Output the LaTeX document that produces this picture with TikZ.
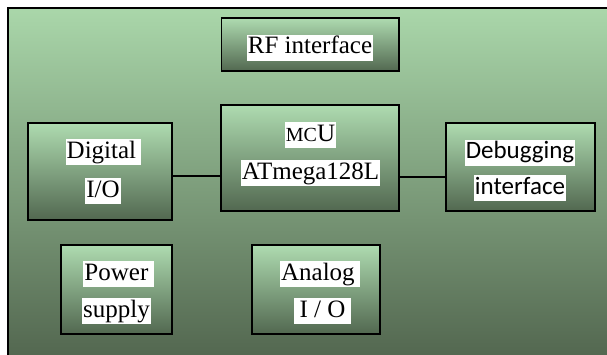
\documentclass[tikz,border=0pt]{standalone}
\usepackage{fontspec}
\setmainfont{Liberation Serif}
\newfontfamily\calfont{Carlito}
\begin{document}
\begin{tikzpicture}[x=1pt,y=-1pt,
  outerbg/.style={draw=black,line width=1.3pt,top color=bgtop,bottom color=bgbot},
  blockbox/.style={draw=black,line width=1.2pt,top color=boxtop,bottom color=boxbot,inner sep=0pt},
  lbl/.style={fill=white,inner xsep=1pt,inner ysep=0pt,text height=19pt,text depth=7pt,font=\fontsize{25}{27}\selectfont},
  clbl/.style={fill=white,inner xsep=1pt,inner ysep=0pt,text height=19pt,text depth=7pt,font=\calfont\fontsize{25}{27}\selectfont},
  conn/.style={draw=black,line width=1.1pt}]
\definecolor{bgtop}{HTML}{AAD7AA}
\definecolor{bgbot}{HTML}{52664F}
\definecolor{boxtop}{HTML}{AEDBB0}
\definecolor{boxbot}{HTML}{526850}
\useasboundingbox (0,0) rectangle (607,354);
\path[outerbg] (8,8) rectangle (612,360);
% boxes
\node[blockbox,minimum width=177.5pt,minimum height=53pt] (rf) at (310.25,44.5) {};
\node[blockbox,minimum width=144pt,minimum height=97pt] (dig) at (100,171.5) {};
\node[blockbox,minimum width=178pt,minimum height=106pt] (mcu) at (310,158) {};
\node[blockbox,minimum width=149pt,minimum height=88pt] (dbg) at (520.5,167) {};
\node[blockbox,minimum width=111pt,minimum height=89pt] (pwr) at (116.5,289.5) {};
\node[blockbox,minimum width=128pt,minimum height=89pt] (ana) at (316,289.5) {};
% connectors
\draw[conn] (dig.east |- 0,176) -- (mcu.west |- 0,176);
\draw[conn] (mcu.east |- 0,177) -- (dbg.west |- 0,177);
% labels
\node[lbl] (t1) at (310,47.5) {RF interface};
\node[lbl] (t2) at (103.5,152) {Digital\,};
\node[lbl] (t3) at (103,191) {I/O};
\node[lbl] (t4) at (310.5,135) {{\fontsize{20}{27}\selectfont MC}U};
\node[lbl] (t5) at (310.5,173) {ATmega128L};
\node[clbl] (t6) at (520,152.5) {Debugging};
\node[clbl] (t7) at (520,188) {interface};
\node[lbl] (t8) at (118.5,274) {Power\,};
\node[lbl] (t9) at (116.5,311) {supply};
\node[lbl] (t10) at (320,274) {Analog\,};
\node[lbl] (t11) at (322.5,311) {\,I / O\,};
\end{tikzpicture}
\end{document}
